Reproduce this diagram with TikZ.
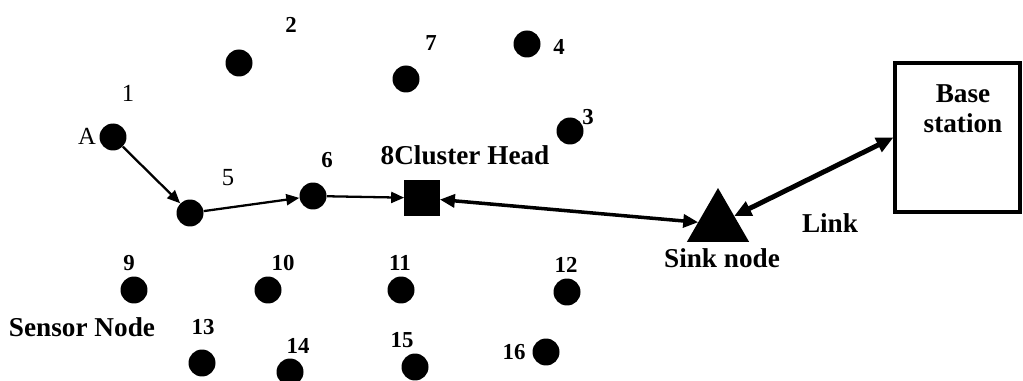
\documentclass[tikz,border=0pt]{standalone}
\usepackage{fontspec}
\setmainfont{Liberation Serif}
\usetikzlibrary{shapes.geometric,arrows.meta,positioning}

\begin{document}
\begin{tikzpicture}[x=0.02cm, y=-0.02cm,
      dot/.style={circle, fill=black, inner sep=0pt, minimum size=0.54cm},
      num/.style={font=\fontsize{13}{15}\selectfont\bfseries, inner sep=0pt},
      plain/.style={font=\fontsize{14}{16}\selectfont, inner sep=0pt},
      lbl/.style={font=\fontsize{15.5}{17}\selectfont\bfseries, align=center, inner sep=0pt},
      chead/.style={rectangle, draw, fill=black, inner sep=0pt, minimum size=0.7cm},
      sink/.style={regular polygon, regular polygon sides=3, fill=black, inner sep=0pt, outer sep=0pt, minimum size=1.44cm},
      bsbox/.style={draw, line width=1.8pt, minimum width=2.5cm, minimum height=2.98cm},
      arr/.style={-{Triangle[length=0.26cm,width=0.22cm]}, line width=1.3pt},
      darr/.style={{Triangle[length=0.3cm,width=0.26cm]}-{Triangle[length=0.3cm,width=0.26cm]}, line width=2pt},
      lnk/.style={{Triangle[length=0.34cm,width=0.3cm]}-{Triangle[length=0.34cm,width=0.3cm]}, line width=2.8pt}
    ]
    \useasboundingbox (0,0) rectangle (1023,381);
    % sensor nodes
    \node[dot] (a) at (113,137) {};
    \node[dot] (n2) at (239,63) {};
    \node[dot] (n7) at (406,79) {};
    \node[dot] (n4) at (527,44) {};
    \node[dot] (n3) at (570,131) {};
    \node[dot] (n5) at (190,213) {};
    \node[dot] (n6) at (313,196) {};
    \node[dot] (n9) at (134,290) {};
    \node[dot] (n10) at (268,290) {};
    \node[dot] (n11) at (401,290) {};
    \node[dot] (n12) at (567,292) {};
    \node[dot] (n13) at (202,363) {};
    \node[dot] (n14) at (290,372) {};
    \node[dot] (n15) at (415,367) {};
    \node[dot] (n16) at (546,352) {};
    % labels
    \node[plain] (l1) at (128,93) {1};
    \node[plain] (lA) at (87,136) {A};
    \node[plain] (l5) at (228,178) {5};
    \node[num] (l2) at (291,25) {2};
    \node[num] (l7) at (431,43) {7};
    \node[num] (l4) at (559,47) {4};
    \node[num] (l3) at (588,117) {3};
    \node[num] (l6) at (327,160) {6};
    \node[num] (l9) at (129,263) {9};
    \node[num] (l10) at (283,263) {10};
    \node[num] (l11) at (400,263) {11};
    \node[num] (l12) at (566,265) {12};
    \node[num] (l13) at (203,327) {13};
    \node[num] (l14) at (298,346) {14};
    \node[num] (l15) at (402,340) {15};
    \node[num] (l16) at (514,352) {16};
    % cluster head, sink, base station
    \node[chead] (ch) at (422,198) {};
    \node[lbl] (chl) at (465,155) {8Cluster Head};
    \node[sink] (sk) at (718,224) {};
    \node[lbl] (skl) at (722,258) {Sink node};
    \node[bsbox] (base) at (957.5,137.5) {};
    \node[lbl] (basel) at (963,109) {Base\\station};
    \node[lbl] (lnkl) at (830,223) {Link};
    \node[lbl] (sens) at (82,327) {Sensor Node};
    \draw[arr] (a) -- (n5); \draw[arr] (n5) -- (n6); \draw[arr] (n6) -- (ch);
    \draw[darr] (ch) -- (sk);
    \draw[lnk] (sk) -- (base.west);
  \end{tikzpicture}
\end{document}
